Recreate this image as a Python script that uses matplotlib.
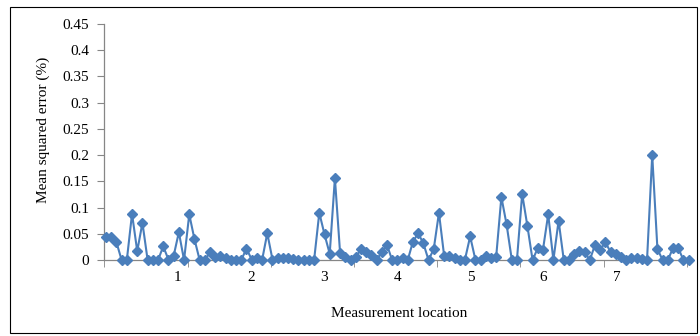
import matplotlib
matplotlib.use("Agg")
import matplotlib.pyplot as plt
from matplotlib.patches import Rectangle
import numpy as np

plt.rcParams['font.family'] = ['Liberation Serif', 'DejaVu Serif']

mse = [0.044, 0.044, 0.034, 0.0, 0.0, 0.088, 0.017, 0.071, 0.0, 0.0,
       0.0, 0.026, 0.001, 0.008, 0.053, 0.0, 0.087, 0.040, 0.0, 0.0,
       0.015, 0.005, 0.008, 0.003, 0.0, 0.0, 0.0, 0.022, 0.001, 0.004,
       0.0, 0.051, 0.001, 0.004, 0.004, 0.004, 0.002, 0.001, 0.0, 0.0,
       0.0, 0.090, 0.049, 0.012, 0.156, 0.013, 0.005, 0.0, 0.005, 0.021,
       0.015, 0.010, 0.0, 0.015, 0.029, 0.0, 0.0, 0.004, 0.0, 0.035,
       0.051, 0.032, 0.0, 0.021, 0.090, 0.008, 0.008, 0.003, 0.0, 0.001,
       0.045, 0.001, 0.001, 0.007, 0.003, 0.006, 0.120, 0.068, 0.001, 0.001,
       0.126, 0.065, 0.0, 0.023, 0.020, 0.087, 0.0, 0.075, 0.0, 0.0,
       0.012, 0.018, 0.015, 0.0, 0.029, 0.020, 0.034, 0.015, 0.012, 0.005,
       0.001, 0.003, 0.004, 0.002, 0.0, 0.200, 0.021, 0.0, 0.0, 0.023,
       0.023, 0.0, 0.0]
loc_labels = ['1', '2', '3', '4', '5', '6', '7']
y_ticks = [0, 0.05, 0.1, 0.15, 0.2, 0.25, 0.3, 0.35, 0.4, 0.45]
y_labels = ['0', '0.05', '0.1', '0.15', '0.2', '0.25', '0.3', '0.35', '0.4', '0.45']

idx = np.arange(len(mse))

fig = plt.figure(figsize=(7, 3.36), dpi=100)
fig.patches.append(Rectangle((10 / 700, 3 / 336), 687 / 700, 326 / 336,
                             transform=fig.transFigure, fill=False,
                             edgecolor='black', linewidth=0.8))
ax = fig.add_axes([0.149, 0.226, 0.837, 0.703])

ax.plot(idx, mse, color='#4A7EBB', linewidth=1.5, marker='D',
        markersize=4.8, markerfacecolor='#4A7EBB', markeredgecolor='#4A7EBB',
        clip_on=False, zorder=3)

ax.set_xlim(-0.33, 112.3)
ax.set_ylim(0, 0.45)

ax.set_yticks(y_ticks)
ax.set_yticklabels(y_labels)

# category labels sit between the axis tick marks
lab_pos = [-0.23 + 14.06 * (k + 1) for k in range(len(loc_labels))]
ax.set_xticks(lab_pos)
ax.set_xticklabels(loc_labels)
ax.set_xticks([-0.33 + 16 * k for k in range(8)], minor=True)
ax.tick_params(axis='x', which='major', length=0, pad=8, labelsize=11)
ax.tick_params(axis='x', which='minor', length=5, direction='out', color='#868686')
ax.tick_params(axis='y', length=5, direction='out', color='#868686', labelsize=11, pad=6)

for s in ['top', 'right']:
    ax.spines[s].set_visible(False)
for s in ['left', 'bottom']:
    ax.spines[s].set_color('#868686')
    ax.spines[s].set_linewidth(0.9)

ax.set_ylabel('Mean squared error (%)', fontsize=11)
ax.yaxis.set_label_coords(-0.093, 0.55)
ax.set_xlabel('Measurement location', fontsize=11)
ax.xaxis.set_label_coords(0.503, -0.2)

fig.savefig('out.png', dpi=100)
